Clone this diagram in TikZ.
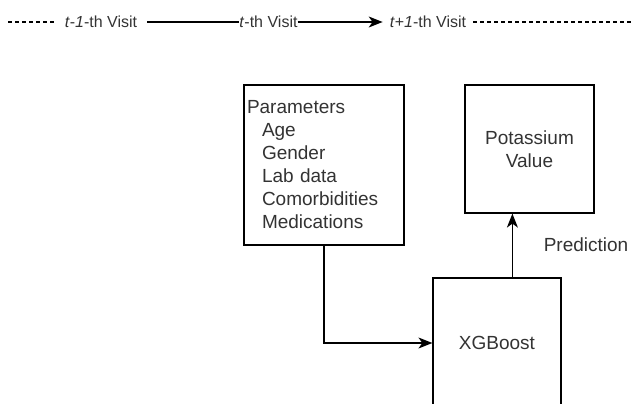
\documentclass[tikz,border=0pt]{standalone}
\usepackage{fontspec}
\setmainfont{Liberation Sans}
\usetikzlibrary{arrows.meta}
\begin{document}
\begin{tikzpicture}[x=1pt,y=-1pt,
  every node/.style={text=black!80},
  box/.style={draw=black, line width=1.2pt, font=\fontsize{19}{23}\selectfont},
  arr/.style={line width=1.2pt, -{Stealth[length=14pt,width=11pt,inset=4pt]}},
  toptext/.style={font=\fontsize{16}{19}\selectfont, inner ysep=2pt},
  line/.style={line width=1.2pt}]
\useasboundingbox (0,0) rectangle (633,404);
% timeline
\node[toptext, inner xsep=10pt] (tm1) at (101,22) {\textit{t}-\textit{1}-th Visit};
\node[toptext, inner xsep=0pt] (t) at (268.5,22) {\textit{t}-th Visit};
\node[toptext, inner xsep=7pt] (tp1) at (428,22) {\textit{t}+\textit{1}-th Visit};
\coordinate (dl) at (8,22);
\coordinate (dr) at (633,22);
\draw[line, dash pattern=on 4pt off 3pt] (dl) -- (tm1.west);
\draw[line] (tm1.east) -- (t.west);
\draw[arr] (t.east) -- (tp1.west);
\draw[line, dash pattern=on 4pt off 3pt] (tp1.east) -- (dr);
% boxes
\node[box, minimum width=160pt, minimum height=160pt, align=left, text width=154pt, inner xsep=3pt] (params) at (324,165)
  {Parameters\\\hspace*{15pt}Age\\\hspace*{15pt}Gender\\\hspace*{15pt}Lab data\\\hspace*{15pt}Comorbidities\\\hspace*{15pt}Medications};
\node[box, minimum width=129pt, minimum height=128pt, align=center] (pot) at (529.5,149) {Potassium\\Value};
\node[box, minimum width=128pt, minimum height=130pt] (xgb) at (497,343) {XGBoost};
\node[font=\fontsize{19}{23}\selectfont] (pred) at (586,245) {Prediction};
% connectors
\draw[arr] (params.south) |- (xgb.west);
\path (xgb.north west) ++(80,0) coordinate (pa);
\draw[arr] (pa) -- (pa |- pot.south);
\end{tikzpicture}
\end{document}
